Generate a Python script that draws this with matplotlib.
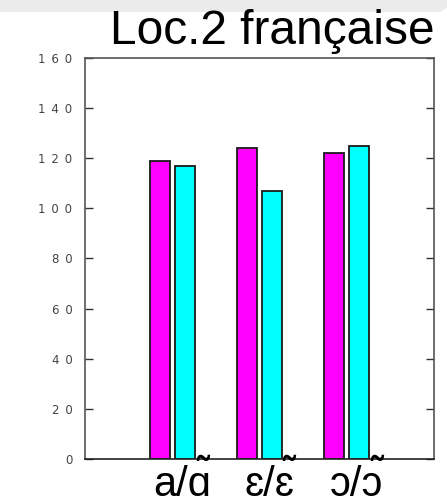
import matplotlib
matplotlib.use("Agg")
import matplotlib.pyplot as plt
import numpy as np
from matplotlib.patches import Polygon

# voyelles orales / nasales, durées pour les deux séries
categories = ["a/\u0251", "\u025b/\u025b", "\u0254/\u0254"]
orales = [119, 124, 122]
nasales = [117, 107, 125]
yticks = [0, 20, 40, 60, 80, 100, 120, 140, 160]

plt.rcParams['font.family'] = ['Liberation Sans', 'DejaVu Sans']

W, H = 447, 504
fig = plt.figure(figsize=(W / 100, H / 100), dpi=100)

# bandeau gris en haut de la diapo
band = Polygon([[0, 1.0], [1.0, 1.0], [1.0, 0.985], [0.985, 0.976], [0, 0.976]],
               closed=True, transform=fig.transFigure, facecolor='#ebebeb',
               edgecolor='none', zorder=0)
fig.patches.append(band)

ax = fig.add_axes([0.190, 0.0893, 0.781, 0.796])

x = np.arange(1, len(categories) + 1)
w = 0.23
ax.bar(x - 0.145, orales, w, color='#ff00ff', edgecolor='#1a1a1a', linewidth=1.3)
ax.bar(x + 0.145, nasales, w, color='#00ffff', edgecolor='#1a1a1a', linewidth=1.3)

ax.set_xlim(0, 4)
ax.set_ylim(0, 160)
ax.set_yticks(yticks)
# chiffres espacés comme sur l'original
ax.set_yticklabels(["\u2002".join(str(v)) for v in yticks], fontsize=8.5,
                   color='#444444', family='DejaVu Sans')
ax.tick_params(axis='y', direction='in', length=6, width=1, right=True,
               colors='#333333', labelcolor='#444444', pad=9)

ax.set_xticks(x + 0.11)
ax.set_xticklabels(categories, fontsize=30)
ax.tick_params(axis='x', length=0, pad=4)

for s in ax.spines.values():
    s.set_color('#555555')
    s.set_linewidth(1.2)
ax.spines['bottom'].set_color('#222222')

fig.text(0.61, 0.912, "Loc.2 française", fontsize=34.5, ha='center', va='baseline')

# tilde de nasalisation posé sur la dernière voyelle de chaque étiquette
fig.canvas.draw()
renderer = fig.canvas.get_renderer()
for lab in ax.get_xticklabels():
    bb = lab.get_window_extent(renderer)
    t = fig.text(0, 0, lab.get_text()[-1], fontsize=30)
    wl = t.get_window_extent(renderer).width
    t.remove()
    cx = bb.x1 - wl / 2 + 4
    fig.text(cx / W, 16 / H, "\u02dc", fontsize=30, ha='center', va='baseline',
             family='DejaVu Sans')

fig.savefig("out.png", dpi=100)
